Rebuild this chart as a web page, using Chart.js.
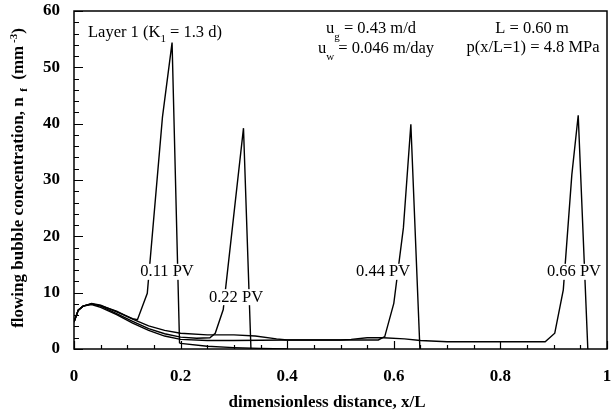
<!DOCTYPE html>
<html>
<head>
<meta charset="utf-8">
<script src="https://cdn.jsdelivr.net/npm/chart.js@4.4.1/dist/chart.umd.min.js"></script>
<style>
  body { margin: 0; background: #fff; }
</style>
</head>
<body>
<canvas id="grafico" width="612" height="414"></canvas>
<script>
// perfiles de concentración para cada volumen poroso inyectado
const x011 = [0, 0.008, 0.017, 0.033, 0.05, 0.08, 0.11, 0.119, 0.1375, 0.166, 0.184, 0.198, 0.2, 0.25, 0.3, 0.35, 0.4];
const n011 = [4.8, 6.9, 7.6, 8.1, 7.8, 6.6, 5.4, 5.2, 9.9, 41.2, 54.4, 1.1, 1.0, 0.5, 0.25, 0.1, 0];

const x022 = [0, 0.008, 0.017, 0.033, 0.05, 0.08, 0.11, 0.14, 0.17, 0.2, 0.23, 0.255, 0.265, 0.28, 0.318, 0.332];
const n022 = [4.8, 6.9, 7.6, 8.0, 7.6, 6.3, 4.9, 3.6, 2.7, 2.1, 1.9, 2.0, 2.8, 7.0, 39.2, 0];

const x044 = [0, 0.008, 0.017, 0.033, 0.05, 0.08, 0.11, 0.14, 0.17, 0.2, 0.25, 0.3, 0.34, 0.38, 0.4, 0.5, 0.571, 0.583, 0.6, 0.618, 0.632, 0.649];
const n044 = [4.8, 6.9, 7.6, 8.0, 7.7, 6.7, 5.3, 4.1, 3.3, 2.8, 2.5, 2.5, 2.3, 1.8, 1.6, 1.6, 1.6, 2.2, 8.1, 21.5, 39.9, 0];

const x066 = [0, 0.008, 0.017, 0.033, 0.05, 0.08, 0.11, 0.14, 0.17, 0.2, 0.25, 0.3, 0.4, 0.5, 0.52, 0.55, 0.58, 0.62, 0.65, 0.7, 0.8, 0.884, 0.902, 0.918, 0.934, 0.946, 0.964];
const n066 = [4.8, 6.9, 7.6, 7.9, 7.4, 6.1, 4.6, 3.3, 2.3, 1.7, 1.5, 1.5, 1.6, 1.6, 1.7, 2.0, 2.0, 1.8, 1.5, 1.3, 1.3, 1.3, 2.8, 10.5, 30.9, 41.5, 0];

const etiquetas = ['0.11 PV', '0.22 PV', '0.44 PV', '0.66 PV'];
const posEtiquetas = [[0.1745, 13.7], [0.304, 9.2], [0.58, 13.7], [0.938, 13.7]];

const xTicks = [0, 0.2, 0.4, 0.6, 0.8, 1];
const xTickLabels = ['0', '0.2', '0.4', '0.6', '0.8', '1'];
const yTicks = [0, 10, 20, 30, 40, 50, 60];
const yTickLabels = ['0', '10', '20', '30', '40', '50', '60'];

const serif = '"Liberation Serif", "Times New Roman", serif';

const puntos = (xs, ys) => xs.map((x, i) => ({ x: x, y: ys[i] }));

const serie = (xs, ys) => ({
    data: puntos(xs, ys),
    showLine: true,
    borderColor: '#000',
    borderWidth: 1.4,
    pointRadius: 0,
    tension: 0,
    fill: false
});

// marco y marcas hacia adentro
const marco = {
    id: 'marco',
    afterDraw(chart) {
        const ctx = chart.ctx;
        const a = chart.chartArea;
        const sx = chart.scales.x;
        const sy = chart.scales.y;
        ctx.save();
        ctx.strokeStyle = '#000';
        ctx.lineWidth = 1.5;
        ctx.strokeRect(a.left, a.top, a.right - a.left, a.bottom - a.top);
        ctx.lineWidth = 1.2;
        ctx.beginPath();
        for (let i = 0; i <= 20; i++) {
            const v = i * 0.05;
            const px = Math.round(sx.getPixelForValue(v)) + 0.5;
            const largo = (i % 4 === 0) ? 8 : 4;
            ctx.moveTo(px, a.bottom);
            ctx.lineTo(px, a.bottom - largo);
        }
        for (let i = 0; i <= 30; i++) {
            const py = Math.round(sy.getPixelForValue(i * 2)) + 0.5;
            const largo = (i % 5 === 0) ? 9 : 5;
            ctx.moveTo(a.left, py);
            ctx.lineTo(a.left + largo, py);
        }
        ctx.stroke();
        ctx.restore();
    }
};

// texto con subíndice / superíndice
function textoCompuesto(ctx, partes, x, y, align) {
    let total = 0;
    partes.forEach(p => { ctx.font = p.font; total += ctx.measureText(p.t).width; });
    let cx = align === 'center' ? x - total / 2 : (align === 'right' ? x - total : x);
    partes.forEach(p => {
        ctx.font = p.font;
        ctx.fillText(p.t, cx, y + (p.dy || 0));
        cx += ctx.measureText(p.t).width;
    });
}

const textos = {
    id: 'textos',
    afterDatasetsDraw(chart) {
        const ctx = chart.ctx;
        const sx = chart.scales.x;
        const sy = chart.scales.y;
        ctx.save();
        ctx.fillStyle = '#000';
        ctx.textBaseline = 'middle';
        ctx.textAlign = 'left';

        // etiquetas de cada curva sobre fondo blanco
        const f16 = '16.5px ' + serif;
        ctx.font = f16;
        etiquetas.forEach((t, i) => {
            const px = sx.getPixelForValue(posEtiquetas[i][0]);
            const py = sy.getPixelForValue(posEtiquetas[i][1]);
            const w = ctx.measureText(t).width;
            ctx.fillStyle = '#fff';
            ctx.fillRect(px - w / 2 - 2, py - 8, w + 4, 16);
            ctx.fillStyle = '#000';
            ctx.fillText(t, px - w / 2, py);
        });

        const sub = '11px ' + serif;
        ctx.textBaseline = 'alphabetic';
        textoCompuesto(ctx, [
            { t: 'Layer 1 (K', font: f16 },
            { t: '1', font: sub, dy: 5 },
            { t: ' = 1.3 d)', font: f16 }
        ], 88, 37, 'left');
        textoCompuesto(ctx, [
            { t: 'u', font: f16 },
            { t: 'g', font: sub, dy: 7 },
            { t: ' = 0.43 m/d', font: f16 }
        ], 371, 33, 'center');
        textoCompuesto(ctx, [
            { t: 'u', font: f16 },
            { t: 'w', font: sub, dy: 7 },
            { t: ' = 0.046 m/day', font: f16 }
        ], 376, 53, 'center');
        textoCompuesto(ctx, [{ t: 'L = 0.60 m', font: f16 }], 532, 33, 'center');
        textoCompuesto(ctx, [{ t: 'p(x/L=1) = 4.8 MPa', font: f16 }], 533, 52, 'center');

        // títulos de los ejes
        const fb = 'bold 17px ' + serif;
        ctx.textBaseline = 'middle';
        textoCompuesto(ctx, [{ t: 'dimensionless distance, x/L', font: fb }], 327, 403, 'center');

        ctx.translate(19, 178);
        ctx.rotate(-Math.PI / 2);
        textoCompuesto(ctx, [
            { t: 'flowing bubble concentration, n', font: fb },
            { t: '  f', font: 'bold 11px ' + serif, dy: 5 },
            { t: '  (mm', font: fb },
            { t: ' -3', font: 'bold 11px ' + serif, dy: -5 },
            { t: ')', font: fb }
        ], 0, 0, 'center');
        ctx.restore();
    }
};

const config = {
    type: 'scatter',
    data: {
        datasets: [
            serie(x011, n011),
            serie(x022, n022),
            serie(x044, n044),
            serie(x066, n066)
        ]
    },
    options: {
        responsive: false,
        animation: false,
        layout: { padding: { top: 11, right: 5, left: 0, bottom: 0 } },
        plugins: {
            legend: { display: false },
            tooltip: { enabled: false }
        },
        scales: {
            x: {
                type: 'linear',
                min: 0,
                max: 1,
                grid: { display: false },
                border: { display: false },
                afterBuildTicks: (s) => { s.ticks = xTicks.map(v => ({ value: v })); },
                afterFit: (s) => { s.height = 65; s.paddingLeft = 0; s.paddingRight = 0; },
                ticks: {
                    padding: 9,
                    color: '#000',
                    font: { family: serif, size: 17, weight: 'bold' },
                    callback: (v) => xTickLabels[xTicks.indexOf(v)]
                }
            },
            y: {
                type: 'linear',
                min: 0,
                max: 60,
                grid: { display: false },
                border: { display: false },
                afterBuildTicks: (s) => { s.ticks = yTicks.map(v => ({ value: v })); },
                afterFit: (s) => { s.width = 74; s.paddingTop = 0; s.paddingBottom = 0; },
                ticks: {
                    padding: 6,
                    color: '#000',
                    font: { family: serif, size: 17, weight: 'bold' },
                    callback: (v) => yTickLabels[yTicks.indexOf(v)]
                }
            }
        }
    },
    plugins: [marco, textos]
};

const myChart = new Chart(document.getElementById('grafico'), config);
</script>
</body>
</html>
